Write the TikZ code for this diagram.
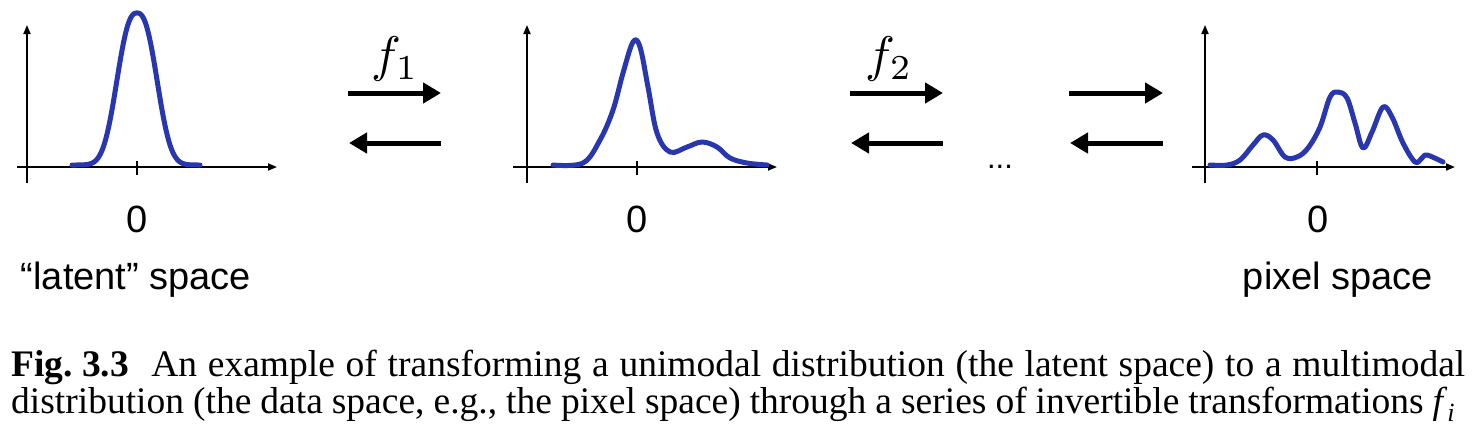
\documentclass[tikz,border=0pt]{standalone}
\usepackage{fontspec}
\setmainfont{Liberation Serif}
\setsansfont{Liberation Sans}
\usepackage{graphicx}
\usetikzlibrary{arrows.meta}
\definecolor{curveblue}{RGB}{40,55,175}
\begin{document}
\begin{tikzpicture}[x=1pt,y=-1pt,
  axis/.style={line width=1.8pt, -{Triangle[length=9pt,width=7pt]}},
  tickline/.style={line width=1.8pt},
  curve/.style={curveblue, line width=5pt, line cap=round, line join=round},
  flow/.style={line width=5pt, -{Triangle[length=18pt,width=20pt]}},
  lbl/.style={font=\sffamily\fontsize{38}{44}\selectfont, inner sep=0pt, anchor=base},
  captext/.style={font=\fontsize{37.5}{44}\selectfont, inner sep=0pt, anchor=base west},
]
\useasboundingbox (0,0) rectangle (1474,442);

% ---- plot 1
\coordinate (a1o) at (27,183); \coordinate (a1y) at (27,25);
\coordinate (a1l) at (17,167); \coordinate (a1x) at (277,167);
\draw[axis] (a1o) -- (a1y);
\draw[axis] (a1l) -- (a1x);
\draw[tickline] (137,161) -- (137,175);
\draw[curve] plot[domain=72:200, samples=120] (\x, {165-152*exp(-1*pow(abs(\x-137)/24.9+0.001,2.5))});
\node[lbl] (zero1) at (137,232) {0};
\node[lbl] (latent) at (136,289) {“latent” space};

% ---- plot 2
\coordinate (a2o) at (527,183); \coordinate (a2y) at (527,25);
\coordinate (a2l) at (513,167); \coordinate (a2x) at (777,167);
\draw[axis] (a2o) -- (a2y);
\draw[axis] (a2l) -- (a2x);
\draw[tickline] (637,161) -- (637,175);
\draw[curve] plot[smooth, tension=0.6] coordinates {(553,165) (583,163) (600,140) (613,110) (623,73) (633,42) (640,47) (648,87) (657,133) (670,152) (687,147) (702,142) (717,147) (730,158) (747,163) (767,165)};
\node[lbl] (zero2) at (637,232) {0};

% ---- plot 3
\coordinate (a3o) at (1205,183); \coordinate (a3y) at (1205,25);
\coordinate (a3l) at (1192,167); \coordinate (a3x) at (1455,167);
\draw[axis] (a3o) -- (a3y);
\draw[axis] (a3l) -- (a3x);
\draw[tickline] (1317,161) -- (1317,175);
\draw[curve] plot[smooth, tension=0.6] coordinates {(1210,165) (1227,165) (1240,160) (1253,145) (1263,135) (1273,140) (1285,157) (1297,157) (1308,148) (1320,127) (1330,97) (1338,92) (1347,98) (1355,123) (1363,148) (1372,132) (1383,107) (1392,117) (1403,143) (1415,162) (1422,158) (1427,155) (1443,162)};
\node[lbl] (zero3) at (1318,232) {0};
\node[lbl] (pixel) at (1338,289) {pixel space};

% ---- transformations
\node (f1) at (395,59) {\scalebox{5}{$f_1$}};
\node (f2) at (889,59) {\scalebox{5}{$f_2$}};
\coordinate (r1s) at (348,93); \coordinate (r1e) at (441,93);
\coordinate (l1s) at (441,143); \coordinate (l1e) at (349,143);
\coordinate (r2s) at (850,93); \coordinate (r2e) at (943,93);
\coordinate (l2s) at (943,143); \coordinate (l2e) at (851,143);
\coordinate (r3s) at (1069,93); \coordinate (r3e) at (1163,93);
\coordinate (l3s) at (1163,143); \coordinate (l3e) at (1070,143);
\draw[flow] (r1s) -- (r1e);
\draw[flow] (l1s) -- (l1e);
\draw[flow] (r2s) -- (r2e);
\draw[flow] (l2s) -- (l2e);
\draw[flow] (r3s) -- (r3e);
\draw[flow] (l3s) -- (l3e);
\node[font=\sffamily\fontsize{31}{36}\selectfont, inner sep=0pt, anchor=base] (dots) at (1000,168) {...};

% ---- caption
\node[captext] (cap1) at (11,376) {\hbox to 1454pt{\textbf{Fig.\hspace{0.25em}3.3}\hspace{0.6em}An example of transforming a unimodal distribution (the latent space) to a multimodal}};
\node[captext] (cap2) at (11,413) {\hbox to 1444pt{distribution (the data space, e.g., the pixel space) through a series of invertible transformations \textit{f}\textsubscript{\textit{i}}}};
\end{tikzpicture}
\end{document}
